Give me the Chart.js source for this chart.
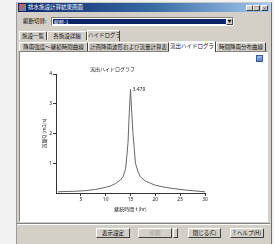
<!DOCTYPE html>
<html><head><meta charset="utf-8">
<script src="https://cdn.jsdelivr.net/npm/chart.js@4/dist/chart.umd.min.js"></script>
<style>
html,body{margin:0;padding:0;background:#f2f2f2;width:274px;height:244px;overflow:hidden;font-family:"Noto Sans CJK JP","Noto Sans",sans-serif;}
.a{position:absolute;box-sizing:border-box;white-space:nowrap;overflow:hidden;}
#win{left:16px;top:2px;width:256px;height:250px;background:#d4d0c8;border:1px solid #707070;border-left-color:#9a9a9a;border-top-color:#c8c8c8;}
#title{left:18px;top:3px;width:252px;height:9px;background:linear-gradient(90deg,#0a246a,#3a6ea5 55%,#a6caf0);color:#fff;font-size:5.5px;line-height:9px;padding-left:10px;}
#ticon{left:19px;top:4px;width:7px;height:7px;background:linear-gradient(135deg,#e05a2a,#4a8ad8);}
.tb{top:5px;width:7px;height:6px;background:#d4d0c8;border:1px solid;border-color:#fff #404040 #404040 #fff;font-size:5px;line-height:4px;text-align:center;color:#000;}
#lbl{left:23px;top:17px;font-size:5.5px;line-height:9px;color:#000;}
#combo{left:51px;top:17px;width:183px;height:9px;background:#fff;border:1px solid;border-color:#808080 #fff #fff #808080;}
#csel{left:53px;top:19px;width:173px;height:5px;background:#0a246a;color:#fff;font-size:5px;line-height:5px;padding-left:1px;}
#cbtn{left:226px;top:18px;width:7px;height:7px;background:#d4d0c8;border:1px solid;border-color:#fff #404040 #404040 #fff;font-size:4px;line-height:5px;text-align:center;}
.tab{height:9px;background:#d4d0c8;border:1px solid;border-color:#fff #404040 transparent #fff;border-bottom:none;font-size:5.5px;line-height:8px;text-align:center;color:#111;border-radius:1px 1px 0 0;}
#panel{left:19px;top:51px;width:249px;height:171px;background:#fff;border:1px solid;border-color:#808080 #fff #fff #808080;}
#picon{left:256px;top:55px;width:7px;height:7px;background:linear-gradient(180deg,#9cb8e8,#5a7cc0);border:1px solid #3a5a9a;}
#sep{left:17px;top:223px;width:253px;height:2px;border-top:1px solid #808080;border-bottom:1px solid #fff;}
.btn{top:228px;height:10px;background:#d4d0c8;border:1px solid;border-color:#fff #404040 #404040 #fff;font-size:5.5px;line-height:8px;text-align:center;color:#000;}
#cv{position:absolute;left:20px;top:52px;}
</style></head><body>
<div id="win" class="a"></div>
<div id="title" class="a">排水施設計算結果画面</div>
<div id="ticon" class="a"></div>
<div class="a tb" style="left:246px">_</div>
<div class="a tb" style="left:253px">□</div>
<div class="a tb" style="left:261px">×</div>
<div id="lbl" class="a">縦断切替:</div>
<div id="combo" class="a"></div>
<div id="csel" class="a">縦断-1</div>
<div id="cbtn" class="a">▼</div>
<div class="a tab" style="left:19px;top:31px;width:28px">施設一覧</div>
<div class="a tab" style="left:47px;top:31px;width:40px">各施設詳細</div>
<div class="a tab" style="left:87px;top:30px;width:33px;height:11px">ハイドログラフ</div>
<div class="a tab" style="left:19px;top:42px;width:69px">降雨強度〜継続時間曲線</div>
<div class="a tab" style="left:88px;top:42px;width:81px">計画降雨波形および流量計算表</div>
<div class="a tab" style="left:169px;top:41px;width:47px;height:11px;background:#fff;z-index:2">流出ハイドログラフ</div>
<div class="a tab" style="left:216px;top:42px;width:50px">時間降雨分布曲線</div>
<div id="panel" class="a"></div>
<canvas id="cv" width="247" height="169"></canvas>
<div id="picon" class="a"></div>
<div id="sep" class="a"></div>
<div class="a btn" style="left:96px;width:34px">表示設定</div>
<div class="a btn" style="left:138px;width:34px;color:#9a9a9a">印刷</div>
<div class="a btn" style="left:173px;width:5px"></div>
<div class="a btn" style="left:188px;width:33px">閉じる(C)</div>
<div class="a btn" style="left:230px;width:34px"><span style="color:#1a6ab0;font-weight:bold">?</span> ヘルプ(H)</div>
<script>
const hours = [0.4, 2, 4, 6, 8, 10, 11, 12, 13, 13.5, 14, 14.3, 14.5, 14.75, 15, 15.25, 15.5, 15.75, 16, 16.5, 17, 18, 19, 20, 22, 24, 26, 28, 30];
const flows = [0.04, 0.05, 0.06, 0.08, 0.12, 0.19, 0.24, 0.32, 0.44, 0.55, 0.80, 1.30, 1.70, 2.68, 3.479, 2.70, 2.00, 1.50, 1.00, 0.72, 0.54, 0.40, 0.33, 0.26, 0.19, 0.14, 0.10, 0.07, 0.04];
const xTickValues = [5, 10, 15, 20, 25, 30];
const yTickValues = [1, 2, 3, 4];
const chartTitle = '流出ハイドログラフ';
const xTitle = '継続時間 t (hr)';
const yTitle = '流量Q (m3/s)';
const peakLabel = '3.479';

const peakPlugin = {
  id: 'peak',
  afterDatasetsDraw(chart) {
    const meta = chart.getDatasetMeta(0);
    let mi = 0;
    flows.forEach((v, i) => { if (v > flows[mi]) mi = i; });
    const el = meta.data[mi];
    const ctx = chart.ctx;
    ctx.save();
    ctx.font = '5px "Noto Sans","DejaVu Sans",sans-serif';
    ctx.fillStyle = '#222';
    ctx.textAlign = 'left';
    ctx.textBaseline = 'middle';
    ctx.fillText(peakLabel, el.x + 2, el.y);
    ctx.restore();
  }
};

const tickFont = {family: '"Noto Sans","DejaVu Sans",sans-serif', size: 5};
new Chart(document.getElementById('cv'), {
  type: 'line',
  data: {
    datasets: [{
      data: hours.map((h, i) => ({x: h, y: flows[i]})),
      borderColor: '#666',
      borderWidth: 1,
      pointRadius: 0,
      tension: 0,
      fill: false
    }]
  },
  options: {
    responsive: false,
    animation: false,
    events: [],
    layout: {padding: {left: 0, right: 62, top: 0, bottom: 0}},
    plugins: {
      legend: {display: false},
      tooltip: {enabled: false},
      title: {display: true, text: chartTitle, color: '#222',
        font: {family: '"Noto Sans CJK JP",sans-serif', size: 5, weight: 'normal', lineHeight: 1.2},
        padding: {top: 14, bottom: 2}}
    },
    scales: {
      x: {
        type: 'linear', min: 0, max: 30,
        afterBuildTicks: s => { s.ticks = xTickValues.map(v => ({value: v})); },
        afterFit: s => { s.height = 28; },
        grid: {drawOnChartArea: false, drawTicks: true, tickLength: 3, color: '#333'},
        border: {display: true, color: '#333', width: 1},
        ticks: {color: '#222', font: tickFont, padding: 1, maxRotation: 0, autoSkip: false},
        title: {display: true, text: xTitle, color: '#222', font: {family: '"Noto Sans CJK JP",sans-serif', size: 5}, padding: {top: 0, bottom: 9}}
      },
      y: {
        type: 'linear', min: 0, max: 4,
        afterBuildTicks: s => { s.ticks = yTickValues.map(v => ({value: v})); },
        afterFit: s => { s.width = 36; },
        grid: {drawOnChartArea: false, drawTicks: true, tickLength: 3, color: '#333'},
        border: {display: true, color: '#333', width: 1},
        ticks: {color: '#222', font: tickFont, padding: 1, autoSkip: false},
        title: {display: true, text: yTitle, color: '#222', font: {family: '"Noto Sans CJK JP",sans-serif', size: 5}, padding: {top: 21, bottom: 0}}
      }
    }
  },
  plugins: [peakPlugin]
});
</script>
</body></html>
